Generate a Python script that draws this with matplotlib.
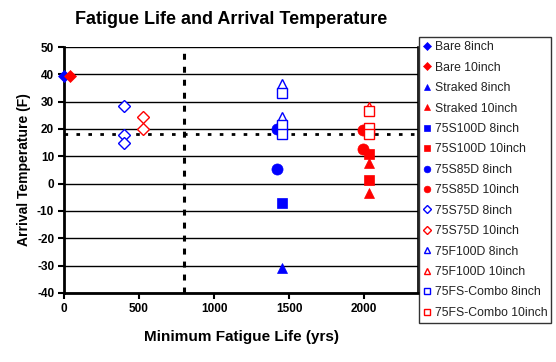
import matplotlib
matplotlib.use("Agg")
import matplotlib.pyplot as plt

plt.rcParams['font.family'] = ['Liberation Sans', 'DejaVu Sans']
plt.rcParams['axes.unicode_minus'] = False

# Series: (label, color, marker, filled, x values, y values)
bare8_x = [0];          bare8_y = [39.5]
bare10_x = [40];        bare10_y = [39.5]
straked8_x = [1450];    straked8_y = [-31]
straked10_x = [2030, 2030]; straked10_y = [7.5, -3.5]
s100d8_x = [1450];      s100d8_y = [-7]
s100d10_x = [2030, 2030]; s100d10_y = [10.8, 1.5]
s85d8_x = [1417, 1417]; s85d8_y = [20, 5.3]
s85d10_x = [1990, 1990]; s85d10_y = [19.5, 12.5]
s75d8_x = [400, 400, 400]; s75d8_y = [28.5, 17.7, 14.7]
s75d10_x = [530, 530];  s75d10_y = [24.3, 20]
f100d8_x = [1450, 1450]; f100d8_y = [36.5, 24.3]
f100d10_x = [2030];     f100d10_y = [28]
fs8_x = [1450, 1450, 1450]; fs8_y = [33, 21.5, 18]
fs10_x = [2030, 2030, 2030]; fs10_y = [26.5, 20.5, 18]

threshold_life = 800
threshold_temp = 18

xticks = [0, 500, 1000, 1500, 2000]
yticks = list(range(-40, 51, 10))

BLUE = '#0000FF'
RED = '#FF0000'

series = [
    ("Bare 8inch", BLUE, 'D', True, bare8_x, bare8_y),
    ("Bare 10inch", RED, 'D', True, bare10_x, bare10_y),
    ("Straked 8inch", BLUE, '^', True, straked8_x, straked8_y),
    ("Straked 10inch", RED, '^', True, straked10_x, straked10_y),
    ("75S100D 8inch", BLUE, 's', True, s100d8_x, s100d8_y),
    ("75S100D 10inch", RED, 's', True, s100d10_x, s100d10_y),
    ("75S85D 8inch", BLUE, 'o', True, s85d8_x, s85d8_y),
    ("75S85D 10inch", RED, 'o', True, s85d10_x, s85d10_y),
    ("75S75D 8inch", BLUE, 'D', False, s75d8_x, s75d8_y),
    ("75S75D 10inch", RED, 'D', False, s75d10_x, s75d10_y),
    ("75F100D 8inch", BLUE, '^', False, f100d8_x, f100d8_y),
    ("75F100D 10inch", RED, '^', False, f100d10_x, f100d10_y),
    ("75FS-Combo 8inch", BLUE, 's', False, fs8_x, fs8_y),
    ("75FS-Combo 10inch", RED, 's', False, fs10_x, fs10_y),
]

fig = plt.figure(figsize=(5.56, 3.62), dpi=100)
ax = fig.add_axes([0.115, 0.191, 0.637, 0.679])

ax.set_xlim(0, 2360)
ax.set_ylim(-40, 50)

for y in yticks:
    ax.axhline(y, color='black', lw=1.0, zorder=1)

ax.axvline(threshold_life, color='black', lw=2.2, ls=(0, (1.95, 2.3)), zorder=2)
ax.axhline(threshold_temp, color='black', lw=2.0, ls=(0, (1.3, 3.0)), zorder=2)

handles = []
for label, color, marker, filled, xs, ys in series:
    ms = 6.5 if marker == 'D' else 7.5
    if marker == 'o':
        ms = 8
    h, = ax.plot(xs, ys, ls='none', marker=marker, ms=ms,
                 markerfacecolor=color if filled else 'white',
                 markeredgecolor=color, markeredgewidth=1.0 if not filled else 0.5,
                 label=label, zorder=3, clip_on=False)
    handles.append(h)

ax.set_xticks(xticks)
ax.set_yticks(yticks)
ax.tick_params(axis='both', direction='out', length=4, width=1.5, labelsize=8.5, pad=3)
for t in ax.get_xticklabels() + ax.get_yticklabels():
    t.set_fontweight('bold')

for side in ['left', 'bottom']:
    ax.spines[side].set_linewidth(2)
ax.spines['top'].set_visible(False)
ax.spines['right'].set_linewidth(1.2)

ax.set_xlabel('Minimum Fatigue Life (yrs)', fontsize=11, fontweight='bold', labelpad=11)
ax.set_ylabel('Arrival Temperature (F)', fontsize=10, fontweight='bold', labelpad=4)

fig.text(0.415, 0.945, 'Fatigue Life and Arrival Temperature', fontsize=13,
         fontweight='bold', ha='center', va='center')

leg = fig.legend(handles=handles, loc='upper left', bbox_to_anchor=(0.754, 0.898),
                 frameon=True, fancybox=False, edgecolor='black', fontsize=8.8,
                 handlelength=0.6, handletextpad=0.3, borderpad=0.35,
                 labelspacing=0.69, markerscale=0.6, borderaxespad=0)
leg.get_frame().set_linewidth(1.0)
for t in leg.get_texts():
    t.set_color('#222222')

fig.savefig('out.png', dpi=100)
